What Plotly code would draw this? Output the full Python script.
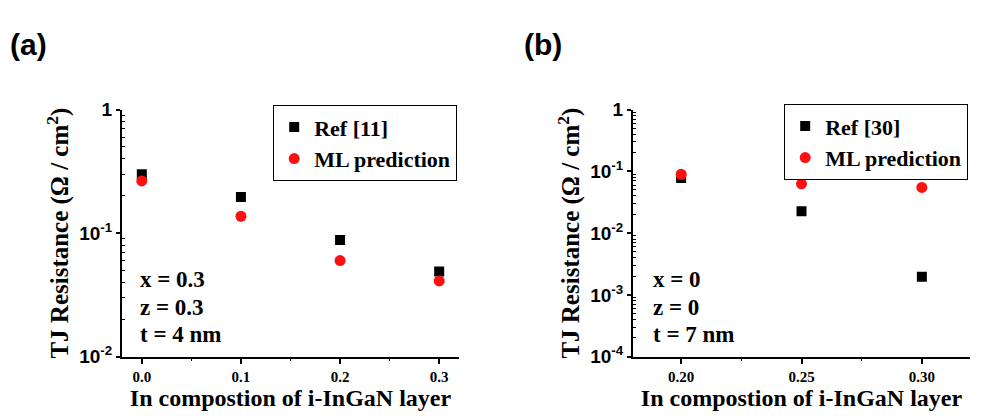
import plotly.graph_objects as go

# Panel (a) data
a_x = [0.0, 0.1, 0.2, 0.3]
a_ref = [0.30, 0.196, 0.088, 0.049]
a_ml = [0.265, 0.137, 0.060, 0.041]
a_xticks = [0.0, 0.1, 0.2, 0.3]
a_xticklabels = ["0.0", "0.1", "0.2", "0.3"]
a_xminor = [0.05, 0.15, 0.25]
a_yticks = [1, 0.1, 0.01]
a_yticklabels = ["1", "10<sup>-1</sup>", "10<sup>-2</sup>"]

# Panel (b) data
b_x = [0.20, 0.25, 0.30]
b_ref = [0.078, 0.0226, 0.00196]
b_ml = [0.090, 0.063, 0.055]
b_xticks = [0.20, 0.25, 0.30]
b_xticklabels = ["0.20", "0.25", "0.30"]
b_xminor = [0.225, 0.275]
b_yticks = [1, 0.1, 0.01, 0.001, 0.0001]
b_yticklabels = ["1", "10<sup>-1</sup>", "10<sup>-2</sup>", "10<sup>-3</sup>", "10<sup>-4</sup>"]

# minor log tick values (2..9 per decade)
a_yminor = [m * 10.0 ** e for e in (-2, -1) for m in range(2, 10)]
b_yminor = [m * 10.0 ** e for e in (-4, -3, -2, -1) for m in range(2, 10)]

SERIF = "Liberation Serif, Times New Roman, serif"
SANS = "Liberation Sans, Arial, sans-serif"
RED = "#ff1010"

fig = go.Figure()

fig.add_trace(go.Scatter(x=a_x, y=a_ref, mode="markers", name="Ref [11]",
                         marker=dict(symbol="square", size=10, color="black"),
                         xaxis="x", yaxis="y", legend="legend"))
fig.add_trace(go.Scatter(x=a_x, y=a_ml, mode="markers", name="ML prediction",
                         marker=dict(symbol="circle", size=11, color=RED),
                         xaxis="x", yaxis="y", legend="legend"))
fig.add_trace(go.Scatter(x=b_x, y=b_ref, mode="markers", name="Ref [30]",
                         marker=dict(symbol="square", size=10, color="black"),
                         xaxis="x2", yaxis="y2", legend="legend2"))
fig.add_trace(go.Scatter(x=b_x, y=b_ml, mode="markers", name="ML prediction",
                         marker=dict(symbol="circle", size=11, color=RED),
                         xaxis="x2", yaxis="y2", legend="legend2"))
# invisible copies so that the overlay axes carrying the minor ticks get drawn
fig.add_trace(go.Scatter(x=a_x, y=a_ref, mode="markers", marker=dict(opacity=0),
                         showlegend=False, hoverinfo="skip", xaxis="x3", yaxis="y3"))
fig.add_trace(go.Scatter(x=b_x, y=b_ref, mode="markers", marker=dict(opacity=0),
                         showlegend=False, hoverinfo="skip", xaxis="x4", yaxis="y4"))

ydom = [1 - 365 / 416, 1 - 105 / 416]
adom = [122 / 984, 459 / 984]
bdom = [633 / 984, 970 / 984]

common_x = dict(showline=True, linecolor="black", linewidth=2, showgrid=False, zeroline=False,
                ticks="outside", ticklen=5, tickwidth=1.5, tickcolor="black",
                tickfont=dict(family=SERIF, size=15, color="black", weight="bold"),
                title=dict(text="In compostion of i-InGaN layer",
                           font=dict(family=SERIF, size=24, color="black", weight="bold"),
                           standoff=1))
common_y = dict(type="log", showline=True, linecolor="black", linewidth=2, showgrid=False, zeroline=False,
                ticks="outside", ticklen=4, tickwidth=1.5, tickcolor="black",
                tickfont=dict(family=SANS, size=19, color="black", weight="bold"),
                title=dict(text="TJ Resistance (Ω / cm<sup>2</sup>)",
                           font=dict(family=SERIF, size=25, color="black", weight="bold"),
                           standoff=3))
minor_x = dict(showline=False, showgrid=False, zeroline=False, showticklabels=False,
               ticks="outside", ticklen=3, tickwidth=1.2, tickcolor="black", side="bottom")
minor_y = dict(type="log", showline=False, showgrid=False, zeroline=False, showticklabels=False,
               ticks="inside", ticklen=3, tickwidth=1, tickcolor="black", side="left")

fig.update_layout(
    width=984, height=416,
    margin=dict(l=0, r=0, t=0, b=0),
    plot_bgcolor="white", paper_bgcolor="white",
    xaxis=dict(common_x, domain=adom, range=[-0.02, 0.32],
               tickvals=a_xticks, ticktext=a_xticklabels, anchor="y"),
    yaxis=dict(common_y, domain=ydom, range=[-2, 0],
               tickvals=a_yticks, ticktext=a_yticklabels, anchor="x"),
    xaxis2=dict(common_x, domain=bdom, range=[0.18, 0.32],
                tickvals=b_xticks, ticktext=b_xticklabels, anchor="y2"),
    yaxis2=dict(common_y, domain=ydom, range=[-4, 0],
                tickvals=b_yticks, ticktext=b_yticklabels, anchor="x2"),
    xaxis3=dict(minor_x, overlaying="x", anchor="y", range=[-0.02, 0.32], tickvals=a_xminor),
    yaxis3=dict(minor_y, overlaying="y", anchor="x", range=[-2, 0], tickvals=a_yminor),
    xaxis4=dict(minor_x, overlaying="x2", anchor="y2", range=[0.18, 0.32], tickvals=b_xminor),
    yaxis4=dict(minor_y, overlaying="y2", anchor="x2", range=[-4, 0], tickvals=b_yminor),
    legend=dict(x=273 / 984, y=1 - 100 / 416, xanchor="left", yanchor="top",
                bordercolor="black", borderwidth=1.2, bgcolor="white",
                font=dict(family=SERIF, size=22, color="black", weight="bold"),
                itemwidth=30, tracegroupgap=0),
    legend2=dict(x=784 / 984, y=1 - 99 / 416, xanchor="left", yanchor="top",
                 bordercolor="black", borderwidth=1.2, bgcolor="white",
                 font=dict(family=SERIF, size=22, color="black", weight="bold"),
                 itemwidth=30, tracegroupgap=0),
    showlegend=True,
)

annots = [
    dict(text="(a)", x=8 / 984, y=1 - 36 / 416, xanchor="left", yanchor="middle",
         font=dict(family=SANS, size=30, color="black", weight="bold")),
    dict(text="(b)", x=522 / 984, y=1 - 36 / 416, xanchor="left", yanchor="middle",
         font=dict(family=SANS, size=30, color="black", weight="bold")),
]
a_lines = ["x = 0.3", "z = 0.3", "t = 4 nm"]
b_lines = ["x = 0", "z = 0", "t = 7 nm"]
ys = [284, 313, 342]
for txt, yy in zip(a_lines, ys):
    annots.append(dict(text=txt, x=138 / 984, y=1 - yy / 416, xanchor="left", yanchor="middle",
                       font=dict(family=SERIF, size=23, color="black", weight="bold")))
for txt, yy in zip(b_lines, ys):
    annots.append(dict(text=txt, x=651 / 984, y=1 - yy / 416, xanchor="left", yanchor="middle",
                       font=dict(family=SERIF, size=23, color="black", weight="bold")))
for an in annots:
    an.update(xref="paper", yref="paper", showarrow=False)
fig.update_layout(annotations=annots)

fig.write_html("out.html")
